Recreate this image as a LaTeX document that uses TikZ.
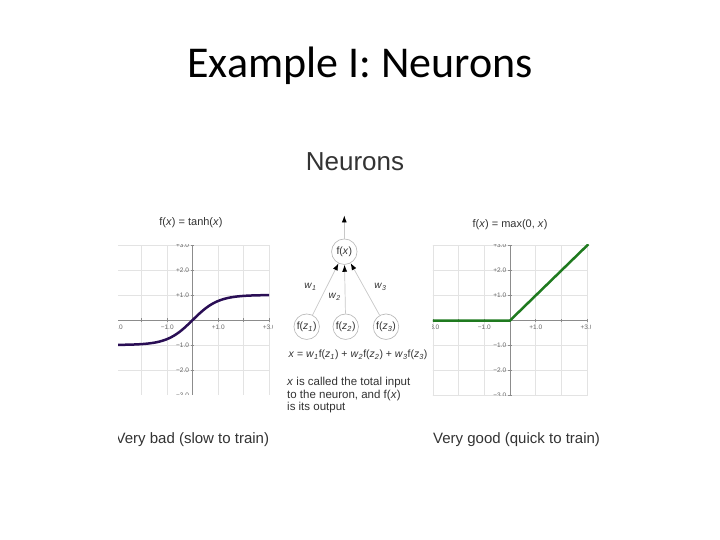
\documentclass[tikz,border=0pt]{standalone}
\usepackage{fontspec}
\setmainfont{Liberation Sans}
\newfontfamily\slidefont{Carlito}
\usetikzlibrary{arrows.meta}
\definecolor{ink}{HTML}{333333}
\definecolor{gridc}{HTML}{E3E3E3}
\definecolor{axisc}{HTML}{8C8C8C}
\definecolor{ticktext}{HTML}{666666}
\definecolor{tanhc}{HTML}{2A0E55}
\definecolor{reluc}{HTML}{1F7A1F}
\definecolor{edgec}{HTML}{C8C8C8}
\definecolor{ringc}{HTML}{B5B5B5}
\newcommand\wt[1]{\textit{w}\textsubscript{\itshape #1}}
\newcommand\fz[1]{f(\textit{z}\textsubscript{\itshape #1})}
% grid, axes and tick labels of one plot, in plot units
\newcommand\plotaxes{%
  \foreach \g in {-3,...,3}{
    \draw[gridline] (\g,-3) -- (\g,3);
    \draw[gridline] (-3.3,\g) -- (3.05,\g);
  }
  \draw[axisline] (-3.3,0) -- (3.05,0);
  \draw[axisline] (0,-3) -- (0,3);
  \foreach \g in {-3,...,3}{
    \draw[axisline] (\g,-0.07) -- (\g,0.07);
    \draw[axisline] (-0.07,\g) -- (0.07,\g);
  }
  \foreach \g/\t in {1/+1.0,2/+2.0,3/+3.0,-1/−1.0,-2/−2.0,-3/−3.0}
    \node[ticklab,anchor=east] (ty\g) at (-0.1,\g) {\t};
  \foreach \g/\t in {-3/−3.0,-1/−1.0,1/+1.0,3/+3.0}
    \node[ticklab,anchor=north] (tx\g) at (\g,-0.15) {\t};
}

\begin{document}
\begin{tikzpicture}[x=1pt,y=-1pt,>=Latex,
 ring/.style={circle,draw=ringc,line width=0.6pt,minimum size=25.5pt,inner sep=0pt,font=\fontsize{10.5}{12}\selectfont,text=ink},
 wire/.style={draw=edgec,line width=0.7pt,-{Latex[length=7pt,width=5pt,color=black]}},
 weight/.style={font=\fontsize{10}{12}\selectfont,text=ink,inner sep=1pt},
 gridline/.style={draw=gridc,line width=0.5pt},
 axisline/.style={draw=axisc,line width=0.6pt},
 ticklab/.style={font=\fontsize{6.5}{7}\selectfont,text=ticktext,inner sep=1pt},
 caption/.style={font=\fontsize{15}{18}\selectfont,text=ink,anchor=west,inner sep=0pt},
 plottitle/.style={font=\fontsize{11}{13}\selectfont,text=ink}]
 \fill[white] (0,0) rectangle (720,540);
 \useasboundingbox (0,0) rectangle (720,540);

 \node[font=\slidefont\fontsize{44}{50}\selectfont,text=black] (title) at (360,66) {Example I: Neurons};

 \begin{scope}
  \clip (118,130) rectangle (610,480);
  \node[font=\fontsize{26}{30}\selectfont,text=ink] (head) at (355,162) {Neurons};

  % tanh plot
  \node[plottitle] (ttanh) at (191,223) {f(\textit{x}) = tanh(\textit{x})};
  \begin{scope}[shift={(192.7pt,-320pt)},x=25.5pt,y=25pt]
   \clip (-3,3.04) rectangle (3.11,-2.98);
   \plotaxes
   \draw[tanhc,line width=2.5pt] plot[domain=-3.3:3,samples=80,smooth] (\x,{tanh(\x)});
  \end{scope}
  \node[caption] (bad) at (115.5,440) {Very bad (slow to train)};

  % relu plot
  \node[plottitle] (trelu) at (510,225) {f(\textit{x}) = max(0, \textit{x})};
  \begin{scope}[shift={(510pt,-320.5pt)},x=25.7pt,y=25pt]
   \clip (-3,3.04) rectangle (3.15,-2.98);
   \plotaxes
   \draw[reluc,line width=2.5pt] (-3.2,0) -- (0,0) -- (3.05,3.05);
  \end{scope}
  \node[caption] (good) at (433,440) {Very good (quick to train)};
 \end{scope}

 % neuron
 \node[ring] (fx) at (344.3,251.7) {f(\textit{x})};
 \node[ring] (z1) at (306.7,326.7) {\fz{1}};
 \node[ring] (z2) at (345.7,326.7) {\fz{2}};
 \node[ring] (z3) at (386,326.7) {\fz{3}};
 \coordinate (out) at (344.3,215.5);
 \draw[wire] (fx) -- (out);
 \draw[wire] (z1) -- node[weight,pos=0.55,left=9pt] (w1) {\wt{1}} (fx);
 \draw[wire] (z2) -- node[weight,pos=0.34,left=3pt] (w2) {\wt{2}} (fx);
 \draw[wire] (z3) -- node[weight,pos=0.54,right=9pt] (w3) {\wt{3}} (fx);
 \node[font=\fontsize{10.5}{12}\selectfont,text=ink] (sum) at (358,355)
  {\textit{x} = \wt{1}\fz{1} + \wt{2}\fz{2} + \wt{3}\fz{3}};
 \node[font=\fontsize{11.5}{12.5}\selectfont,text=ink,align=left,anchor=north west,inner sep=0pt] (note) at (287,377)
  {\textit{x} is called the total input\\to the neuron, and f(\textit{x})\\is its output};
\end{tikzpicture}
\end{document}
